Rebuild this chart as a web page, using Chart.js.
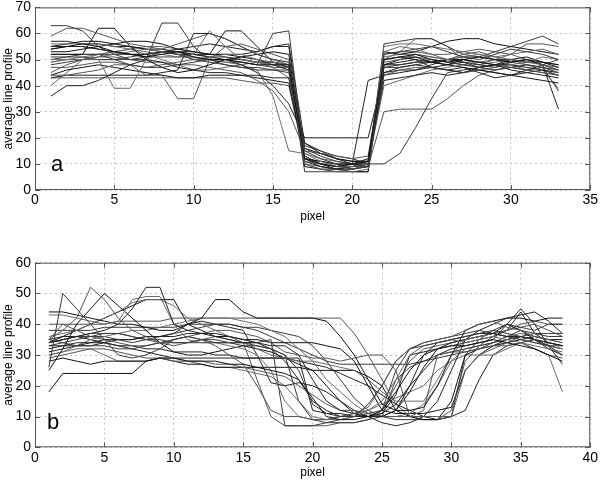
<!DOCTYPE html>
<html>
<head>
<meta charset="utf-8">
<script src="https://cdn.jsdelivr.net/npm/chart.js@4.4.1/dist/chart.umd.min.js"></script>
<style>
  html, body { margin: 0; padding: 0; background: #fff; overflow: hidden; }
  body { width: 600px; height: 481px; position: relative; }
  .box { position: absolute; left: 0; width: 600px; }
  #boxA { top: -5px; height: 242px; }
  #boxB { top: 240px; height: 241px; }
</style>
</head>
<body>
<div class="box" id="boxA"><canvas id="chartA"></canvas></div>
<div class="box" id="boxB"><canvas id="chartB"></canvas></div>
<script>
// === Data: panel a (pixel 1..33) ===
const pixelsA = [1,2,3,4,5,6,7,8,9,10,11,12,13,14,15,16,17,18,19,20,21,22,23,24,25,26,27,28,29,30,31,32,33];
const xTicksA = [0,5,10,15,20,25,30,35];
const yTicksA = [0,10,20,30,40,50,60,70];

const profilesA = [
  [54,55,56,55,53,52,51,52,53,51, 50,50,49,48,48,48, 12,10,9,10,11, 50,51,52,50,49,50,51,50,49,50,49,47],
  [63,63,61,55,52,50,51,53,52,50, 49,48,47,47,46,45, 15,12,10,8,9, 52,53,54,55,53,51,50,52,54,53,52,50],
  [59,62,62,60,58,56,55,54,56,58, 60,58,55,52,50,48, 10,8,7,8,10, 49,50,52,51,50,52,53,51,50,49,48,46],
  [36,40,40,42,45,48,50,49,47,46, 45,45,44,44,43,43, 18,14,12,10,9, 45,47,48,47,46,45,47,48,46,45,44,43],
  [50,50,50,50,39,39,50,53,52,50, 51,52,52,50,49,48, 14,11,9,9,10, 53,55,54,52,50,51,52,50,48,49,51,50],
  [52,52,52,62,62,55,50,47,45,46, 48,50,51,52,53,52, 12,11,10,10,12, 48,50,51,49,48,50,49,48,50,51,49,48],
  [48,49,50,50,50,50,50,64,64,55, 50,48,47,46,46,46, 16,13,11,10,10, 47,48,49,50,49,48,47,46,47,48,47,46],
  [44,44,45,46,48,48,44,44,35,35, 50,55,56,54,52,50, 13,10,9,8,9, 44,46,47,47,46,45,46,47,48,46,45,44],
  [43,44,44,44,44,44,44,45,46,60, 60,58,55,52,50,49, 11,9,8,9,11, 42,43,44,45,44,45,46,45,44,45,46,44],
  [56,56,56,56,55,54,53,52,51,52, 61,55,50,49,48,48, 10,8,7,7,8, 55,56,56,55,54,53,52,51,52,53,54,52],
  [53,53,54,55,56,57,57,56,54,53, 52,61,61,55,49,47, 9,8,8,9,10, 53,52,53,55,57,58,58,56,55,54,53,52],
  [50,51,52,52,50,48,47,47,48,49, 50,50,49,48,60,61, 12,9,8,8,9, 56,57,58,58,55,52,51,53,55,57,59,56],
  [45,48,50,51,51,50,49,49,48,48, 47,46,45,42,38,30, 15,14,13,12,13, 50,51,51,50,49,48,49,50,49,48,47,45],
  [55,55,55,54,53,52,52,53,53,52, 51,50,48,45,40,33, 20,20,20,20,20, 45,46,46,47,48,49,47,48,49,50,48,46],
  [49,50,50,51,52,53,54,53,52,51, 50,49,48,46,36,15, 14,12,11,10,10, 40,42,44,46,47,48,47,46,47,48,47,45],
  [44,46,47,48,47,46,45,44,43,43, 44,44,44,43,42,41, 13,10,8,7,7, 50,51,50,49,48,47,46,45,44,43,42,41],
  [51,51,51,50,50,51,52,53,53,52, 51,51,50,49,49,48, 17,15,13,12,10, 10,14,24,35,45,46,47,48,47,46,48,50],
  [43,43,43,43,43,43,43,43,43,43, 43,43,42,41,41,40, 12,10,9,9,9, 30,31,31,31,35,40,44,46,47,46,45,44],
  [54,55,55,54,53,52,52,53,54,55, 56,55,54,53,55,55, 13,10,9,10,42, 44,45,46,48,50,49,48,47,49,50,48,31],
  [40,45,50,52,53,54,52,50,48,46, 46,47,48,49,48,47, 11,10,10,10,11, 51,52,52,51,50,49,48,49,50,48,46,39],
  [55,56,57,57,56,55,54,53,52,52, 52,52,51,50,48,46, 16,14,12,11,11, 48,48,49,49,50,50,49,48,48,47,46,45],
  [52,52,52,52,52,52,51,51,51,51, 50,50,50,49,49,48, 7,7,7,7,7, 47,47,48,49,50,51,51,50,50,49,49,48],
  [47,47,48,49,49,48,47,48,49,50, 50,49,49,48,47,47, 12,11,10,9,9, 52,53,53,52,52,53,54,53,52,56,56,55],
  [57,57,56,56,55,55,54,54,53,53, 52,52,52,53,55,56, 18,15,12,11,11, 48,49,50,47,46,47,45,43,44,46,47,38],
  [49,50,51,52,53,54,55,55,54,53, 52,51,50,49,47,43, 10,9,8,8,9, 50,53,58,58,55,50,48,50,52,50,48,47]
];

// === Data: panel b (pixel 1..38) ===
const pixelsB = [1,2,3,4,5,6,7,8,9,10,11,12,13,14,15,16,17,18,19,20,21,22,23,24,25,26,27,28,29,30,31,32,33,34,35,36,37,38];
const xTicksB = [0,5,10,15,20,25,30,35,40];
const yTicksB = [0,10,20,30,40,50,60];

const profilesB = [
  [18,24,24,24,24,24,24,28,29,29, 28,28,28,27,27,26,25,24,22,16, 10,9,9,10,12,18,25,30,32,33, 33,34,35,34,33,32,30,28],
  [26,50,45,40,35,30,29,30,32,35, 36,35,34,34,33,33,32,30,25,14, 11,10,10,11,12,25,32,33,34,35, 36,37,38,37,36,35,33,30],
  [35,38,42,52,48,42,38,36,34,35, 36,35,33,30,27,20,12,10,10,9, 9,10,11,13,20,28,32,34,35,36, 38,40,41,39,38,36,35,34],
  [34,35,36,37,38,40,45,52,52,40, 38,37,36,35,34,34,33,33,30,22, 15,12,11,10,10,12,20,30,34,35, 36,37,37,36,36,35,34,33],
  [43,43,42,41,40,41,48,49,49,40, 35,34,34,33,32,30,25,15,10,9, 9,9,10,12,15,22,30,33,34,35, 34,35,36,35,34,33,32,31],
  [44,44,43,42,41,40,40,39,38,38, 40,42,48,48,44,42,42,42,42,42, 41,36,30,22,14,12,12,13,20,30, 38,40,41,42,42,41,42,42],
  [35,34,33,33,33,32,32,33,34,34, 34,34,34,34,34,34,35,7,7,7, 8,9,10,14,20,28,32,34,35,36, 37,38,37,36,35,34,33,33],
  [29,30,31,32,32,31,30,29,29,28, 28,28,27,27,26,25,24,23,20,17, 14,12,12,11,10,10,10,12,30,31, 31,32,33,33,34,32,30,29],
  [33,33,34,34,35,35,35,36,36,36, 37,37,37,36,35,34,32,28,22,15, 12,10,10,10,11,14,20,25,30,32, 33,34,35,40,45,40,33,27],
  [36,37,38,40,42,44,47,48,48,46, 42,40,38,36,34,32,30,29,28,28, 27,26,25,22,18,15,15,15,22,30, 35,36,37,36,35,34,33,32],
  [25,32,40,45,50,46,42,38,34,31, 30,30,31,32,33,32,31,29,27,25, 20,15,11,10,10,12,18,26,32,34, 35,36,37,40,38,35,32,30],
  [33,34,35,36,37,37,36,35,35,34, 34,35,35,34,34,33,32,30,15,9, 8,8,8,9,10,22,26,28,30,31, 32,33,34,35,36,37,37,37],
  [35,40,38,36,35,34,33,33,34,35, 36,37,38,38,37,36,34,31,30,29, 29,28,29,30,30,25,10,10,10,10, 25,30,32,34,36,35,33,32],
  [32,33,33,34,34,35,35,36,36,37, 40,41,40,39,38,30,21,20,21,20, 18,15,12,10,8,7,8,10,15,25, 35,38,40,42,43,44,41,37],
  [30,31,33,35,36,37,38,38,39,40, 41,42,42,42,41,40,38,36,32,28, 22,18,14,11,10,10,11,14,20,28, 32,33,34,36,37,36,35,34],
  [28,29,28,27,28,28,28,28,29,28, 27,27,26,26,26,26,26,26,26,25, 25,25,25,23,20,12,10,9,9,15, 30,32,33,34,35,36,35,35],
  [34,35,36,36,36,35,34,35,36,37, 38,39,40,40,39,39,38,37,36,33, 28,22,16,12,10,9,9,9,9,10, 30,35,38,40,39,38,40,40],
  [40,40,40,40,40,41,41,41,41,42, 42,42,42,42,42,42,42,42,42,42, 42,42,37,30,22,14,10,9,9,12, 28,33,36,38,40,41,40,40],
  [31,32,33,33,34,33,33,32,32,31, 31,31,30,30,29,29,29,29,29,12, 11,11,10,10,11,17,30,31,32,33, 34,35,36,38,44,37,34,33],
  [30,31,32,32,30,28,28,28,29,29, 28,27,26,26,25,24,23,20,15,10, 9,10,11,12,14,16,18,20,25,28, 30,30,30,32,34,32,30,18],
  [34,36,38,40,42,44,46,48,48,48, 40,38,36,36,35,35,34,34,34,34, 33,32,28,20,12,11,11,11,12,13, 25,30,33,35,36,35,34,33],
  [38,38,38,38,39,39,39,39,39,39, 40,40,40,40,39,38,36,34,32,30, 28,27,27,27,27,27,27,28,29,30, 31,32,34,36,38,37,36,36],
  [34,35,36,37,37,37,36,35,34,33, 34,35,36,35,34,22,10,7,7,7, 7,8,8,9,12,20,28,32,33,34, 35,36,37,38,39,40,38,36],
  [35,36,36,35,34,33,32,31,30,29, 29,29,29,29,29,29,29,29,28,27, 26,24,22,20,17,14,12,10,9,10, 12,22,30,33,34,35,33,32]
];

const lineColors = ["#111111", "#3a3a3a", "#555555", "#222222", "#6a6a6a"];

// === Frame, inward ticks and panel letter ===
const framePlugin = {
  id: "frame",
  afterDatasetsDraw(chart, args, opts) {
    const { ctx, chartArea: a, scales } = chart;
    ctx.save();
    ctx.strokeStyle = "#555";
    ctx.lineWidth = 1;
    ctx.strokeRect(a.left + 0.5, a.top + 0.5, a.right - a.left - 1, a.bottom - a.top - 1);
    ctx.beginPath();
    scales.x.ticks.forEach(t => {
      const px = Math.round(scales.x.getPixelForValue(t.value)) + 0.5;
      ctx.moveTo(px, a.bottom); ctx.lineTo(px, a.bottom - 5);
      ctx.moveTo(px, a.top); ctx.lineTo(px, a.top + 5);
    });
    scales.y.ticks.forEach(t => {
      const py = Math.round(scales.y.getPixelForValue(t.value)) + 0.5;
      ctx.moveTo(a.left, py); ctx.lineTo(a.left + 5, py);
      ctx.moveTo(a.right, py); ctx.lineTo(a.right - 5, py);
    });
    ctx.stroke();
    ctx.fillStyle = "#000";
    ctx.font = "22px 'Liberation Sans', Arial, sans-serif";
    ctx.textAlign = "center";
    ctx.textBaseline = "middle";
    ctx.fillText(opts.letter, scales.x.getPixelForValue(opts.lx), scales.y.getPixelForValue(opts.ly));
    ctx.restore();
  }
};

function makePanel(canvasId, pixels, profiles, xTicks, yTicks, cfg) {
  const datasets = profiles.map((vals, i) => ({
    data: vals.map((v, j) => ({ x: pixels[j], y: v })),
    borderColor: lineColors[i % lineColors.length],
    borderWidth: 1,
    pointRadius: 0,
    fill: false,
    tension: 0
  }));
  const font = { family: "'Liberation Sans', Arial, sans-serif", size: 14 };
  return new Chart(document.getElementById(canvasId).getContext("2d"), {
    type: "line",
    data: { datasets },
    plugins: [framePlugin],
    options: {
      responsive: true,
      maintainAspectRatio: false,
      animation: false,
      layout: { padding: { top: cfg.padTop, right: 7, left: 0, bottom: 0 } },
      plugins: {
        legend: { display: false },
        tooltip: { enabled: false },
        frame: { letter: cfg.letter, lx: cfg.lx, ly: cfg.ly }
      },
      scales: {
        x: {
          type: "linear",
          min: xTicks[0],
          max: xTicks[xTicks.length - 1],
          afterBuildTicks: s => { s.ticks = xTicks.map(v => ({ value: v })); },
          afterFit: s => { s.height = cfg.axisH; },
          ticks: { color: "#000", font, padding: 2, maxRotation: 0 },
          grid: { color: "#c4c4c4", borderDash: [2, 3], drawTicks: false, tickLength: 0 },
          border: { display: false, dash: [2, 3] },
          title: {
            display: true, text: "pixel", color: "#000",
            font: { family: font.family, size: 12 },
            padding: { top: 0, bottom: cfg.titlePad }
          }
        },
        y: {
          min: yTicks[0],
          max: yTicks[yTicks.length - 1],
          afterBuildTicks: s => { s.ticks = yTicks.map(v => ({ value: v })); },
          afterFit: s => { s.width = 35; },
          ticks: { color: "#000", font, padding: 4 },
          grid: { color: "#c4c4c4", borderDash: [2, 3], drawTicks: false, tickLength: 0 },
          border: { display: false, dash: [2, 3] },
          title: {
            display: true, text: "average line profile", color: "#000",
            font: { family: font.family, size: 12 },
            padding: { top: 1.5, bottom: 0 }
          }
        }
      }
    }
  });
}

window.addEventListener("DOMContentLoaded", () => {
  makePanel("chartA", pixelsA, profilesA, xTicksA, yTicksA,
    { padTop: 10, axisH: 47, titlePad: 13, letter: "a", lx: 1.4, ly: 9.5 });
  makePanel("chartB", pixelsB, profilesB, xTicksB, yTicksB,
    { padTop: 22.7, axisH: 33.7, titlePad: 1.5, letter: "b", lx: 1.3, ly: 7.9 });
});
</script>
</body>
</html>
